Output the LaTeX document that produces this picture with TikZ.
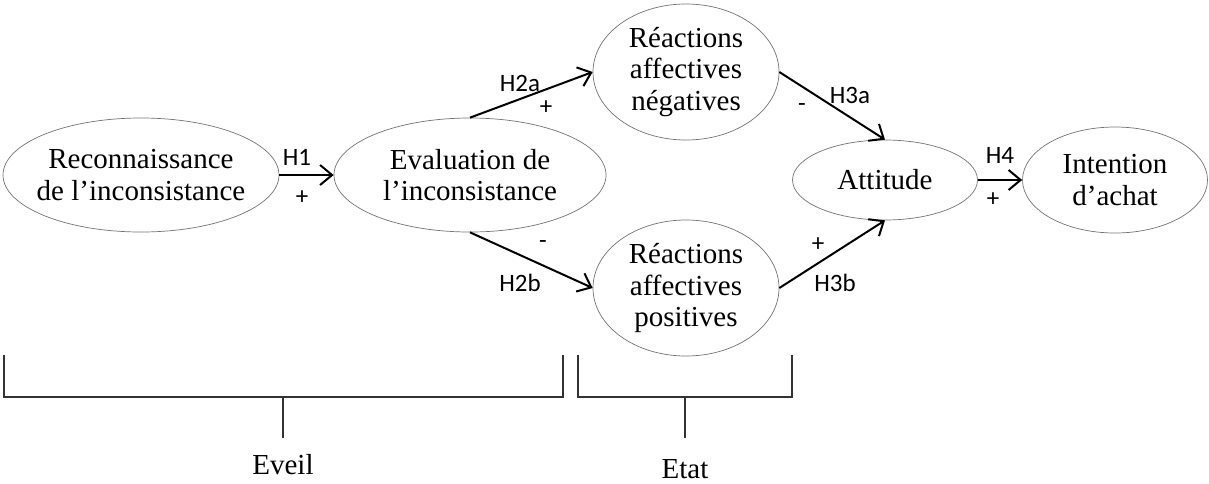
\documentclass[tikz,border=0pt]{standalone}
\usepackage{fontspec}
\setmainfont{Liberation Serif}
\newfontfamily\hypfont{Carlito}
\usetikzlibrary{shapes.geometric,arrows.meta}

\begin{document}
\begin{tikzpicture}[x=1pt, y=-1pt,
    construct/.style={ellipse, draw=black!55, line width=0.7pt, inner sep=0pt},
    ctext/.style={align=center, inner sep=0pt, font=\fontsize{29}{31.5}\selectfont},
    link/.style={line width=2pt, -{Straight Barb[length=12pt, width=20pt]}},
    hyp/.style={inner sep=0pt, font=\hypfont\fontsize{25}{30}\selectfont},
    bracket/.style={line width=1.5pt, draw=black!80}]
  \useasboundingbox (0,0) rectangle (1209,483);

  % Eveil
  \node[construct, minimum width=276pt, minimum height=114pt] (recon) at (141,175) {};
  \node[ctext] (recon-t) at (recon) {Reconnaissance\\de l’inconsistance};
  \node[construct, minimum width=272pt, minimum height=114pt] (eval) at (470,175) {};
  \node[ctext] (eval-t) at (eval) {Evaluation de\\l’inconsistance};

  % Etat
  \node[construct, minimum width=186pt, minimum height=136pt] (neg) at (686,72) {};
  \node[ctext] (neg-t) at (neg) {Réactions\\affectives\\négatives};
  \node[construct, minimum width=186pt, minimum height=136pt] (pos) at (686,288) {};
  \node[ctext] (pos-t) at (pos) {Réactions\\affectives\\positives};

  % Attitude and intention
  \node[construct, minimum width=185pt, minimum height=80pt] (att) at (885,180) {};
  \node[ctext] (att-t) at (att) {Attitude};
  \node[construct, minimum width=185pt, minimum height=106pt] (int) at (1115,180) {};
  \node[ctext] (int-t) at (int) {Intention\\d’achat};

  % hypotheses
  \draw[link] (recon.east) -- (eval.west);
  \draw[link] (eval.north) -- (neg.west);
  \draw[link] (eval.south) -- (pos.west);
  \draw[link] (neg.east) -- (att.north);
  \draw[link] (pos.east) -- (att.south);
  \draw[link] (att.east) -- (int.west);

  \node[hyp] (h1) at (297,157) {H1};
  \node[hyp] (h1-s) at (302,198) {+};
  \node[hyp] (h2a) at (520,83) {H2a};
  \node[hyp] (h2a-s) at (546,108) {+};
  \node[hyp] (h2b) at (520,283) {H2b};
  \node[hyp] (h2b-s) at (543,245) {-};
  \node[hyp] (h3a) at (850,95) {H3a};
  \node[hyp] (h3a-s) at (802,108) {-};
  \node[hyp] (h3b) at (835,283) {H3b};
  \node[hyp] (h3b-s) at (818,245) {+};
  \node[hyp] (h4) at (1000,155) {H4};
  \node[hyp] (h4-s) at (993,200) {+};

  % brackets
  \draw[bracket] (4,355) -- (4,397) -- (563,397) -- (563,355);
  \draw[bracket] (283,397) -- (283,438);
  \node[ctext] (eveil) at (283,465) {Eveil};
  \draw[bracket] (578,355) -- (578,397) -- (792,397) -- (792,355);
  \draw[bracket] (685,397) -- (685,438);
  \node[ctext] (etat) at (685,469) {Etat};
\end{tikzpicture}
\end{document}
